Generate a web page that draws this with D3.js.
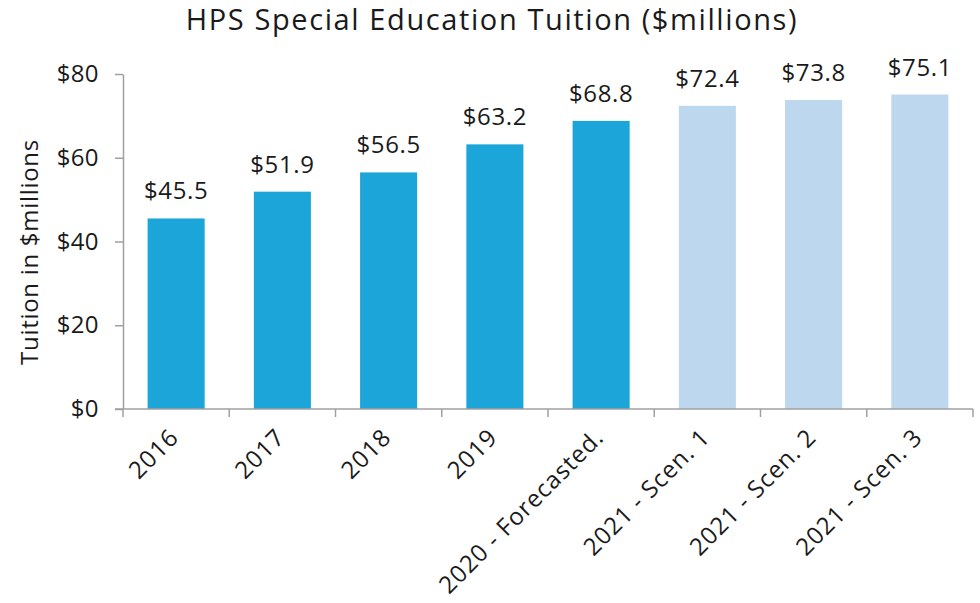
<!DOCTYPE html>
<html><head><meta charset="utf-8">
<script src="https://cdn.jsdelivr.net/npm/d3@7"></script>
<style>
body{margin:0;background:#fff;}
text{font-family:"Open Sans", Lato, sans-serif;fill:#1a1a1a;}
</style></head>
<body><svg id="c" width="980" height="603"></svg>
<script>
const categories = ["2016","2017","2018","2019","2020 - Forecasted.","2021 - Scen. 1","2021 - Scen. 2","2021 - Scen. 3"];
const values = [45.5, 51.9, 56.5, 63.2, 68.8, 72.4, 73.8, 75.1];
const projected = [false,false,false,false,false,true,true,true];
const yTicks = [0,20,40,60,80];

const svg = d3.select("#c");
const x = d3.scaleBand().domain(categories).range([123,973]).paddingInner(0.463).paddingOuter(0.2315);
const y = d3.scaleLinear().domain([0,80]).range([409,74]);

svg.append("text").attr("x",492).attr("y",30).attr("text-anchor","middle")
  .style("font-size","29px").style("letter-spacing","1.6px").text("HPS Special Education Tuition ($millions)");

svg.append("text").attr("transform","translate(38,252) rotate(-90)").attr("text-anchor","middle")
  .style("font-size","24px").style("letter-spacing","0.7px").text("Tuition in $millions");

// bars
svg.selectAll("rect.bar").data(values).enter().append("rect")
  .attr("x",(d,i)=>x(categories[i])).attr("width",x.bandwidth())
  .attr("y",d=>y(d)).attr("height",d=>y(0)-y(d))
  .attr("fill",(d,i)=>projected[i]?"#bdd7ee":"#1ca5d9");

// labels
svg.selectAll("text.lab").data(values).enter().append("text")
  .attr("x",(d,i)=>x(categories[i])+x.bandwidth()/2).attr("y",d=>y(d)-19)
  .attr("text-anchor","middle").style("font-size","24px").style("letter-spacing","0.6px").text(d=>"$"+d.toFixed(1));

// y axis
const ya = svg.append("g").attr("transform","translate(123,0)")
  .call(d3.axisLeft(y).tickValues(yTicks).tickSize(8).tickFormat(d=>"$"+d).tickSizeOuter(0));
ya.select(".domain").attr("stroke","#a0a0a0").attr("stroke-width",1.5);
ya.selectAll(".tick line").attr("stroke","#a0a0a0").attr("stroke-width",1.5);
ya.selectAll(".tick text").attr("x",-24).style("font-size","24px").style("letter-spacing","0.4px").style("font-family","'Open Sans', sans-serif").attr("fill","#1a1a1a");

// x axis
const xa = svg.append("g").attr("transform","translate(0,409)");
xa.append("line").attr("x1",115).attr("x2",973).attr("y1",0).attr("y2",0).attr("stroke","#a0a0a0").attr("stroke-width",1.5);
const bounds = categories.map(c=>x(c)-x.step()*x.paddingInner()/2);
bounds.push(973);
xa.selectAll("line.t").data(bounds).enter().append("line")
  .attr("x1",d=>d).attr("x2",d=>d).attr("y1",0).attr("y2",8).attr("stroke","#a0a0a0").attr("stroke-width",1.5);
xa.selectAll("text.xl").data(categories).enter().append("text")
  .attr("transform",c=>`translate(${x(c)+x.bandwidth()/2+4},${30}) rotate(-45)`)
  .attr("text-anchor","end").style("font-size","24px").style("letter-spacing","0.9px").text(c=>c);
</script></body></html>
